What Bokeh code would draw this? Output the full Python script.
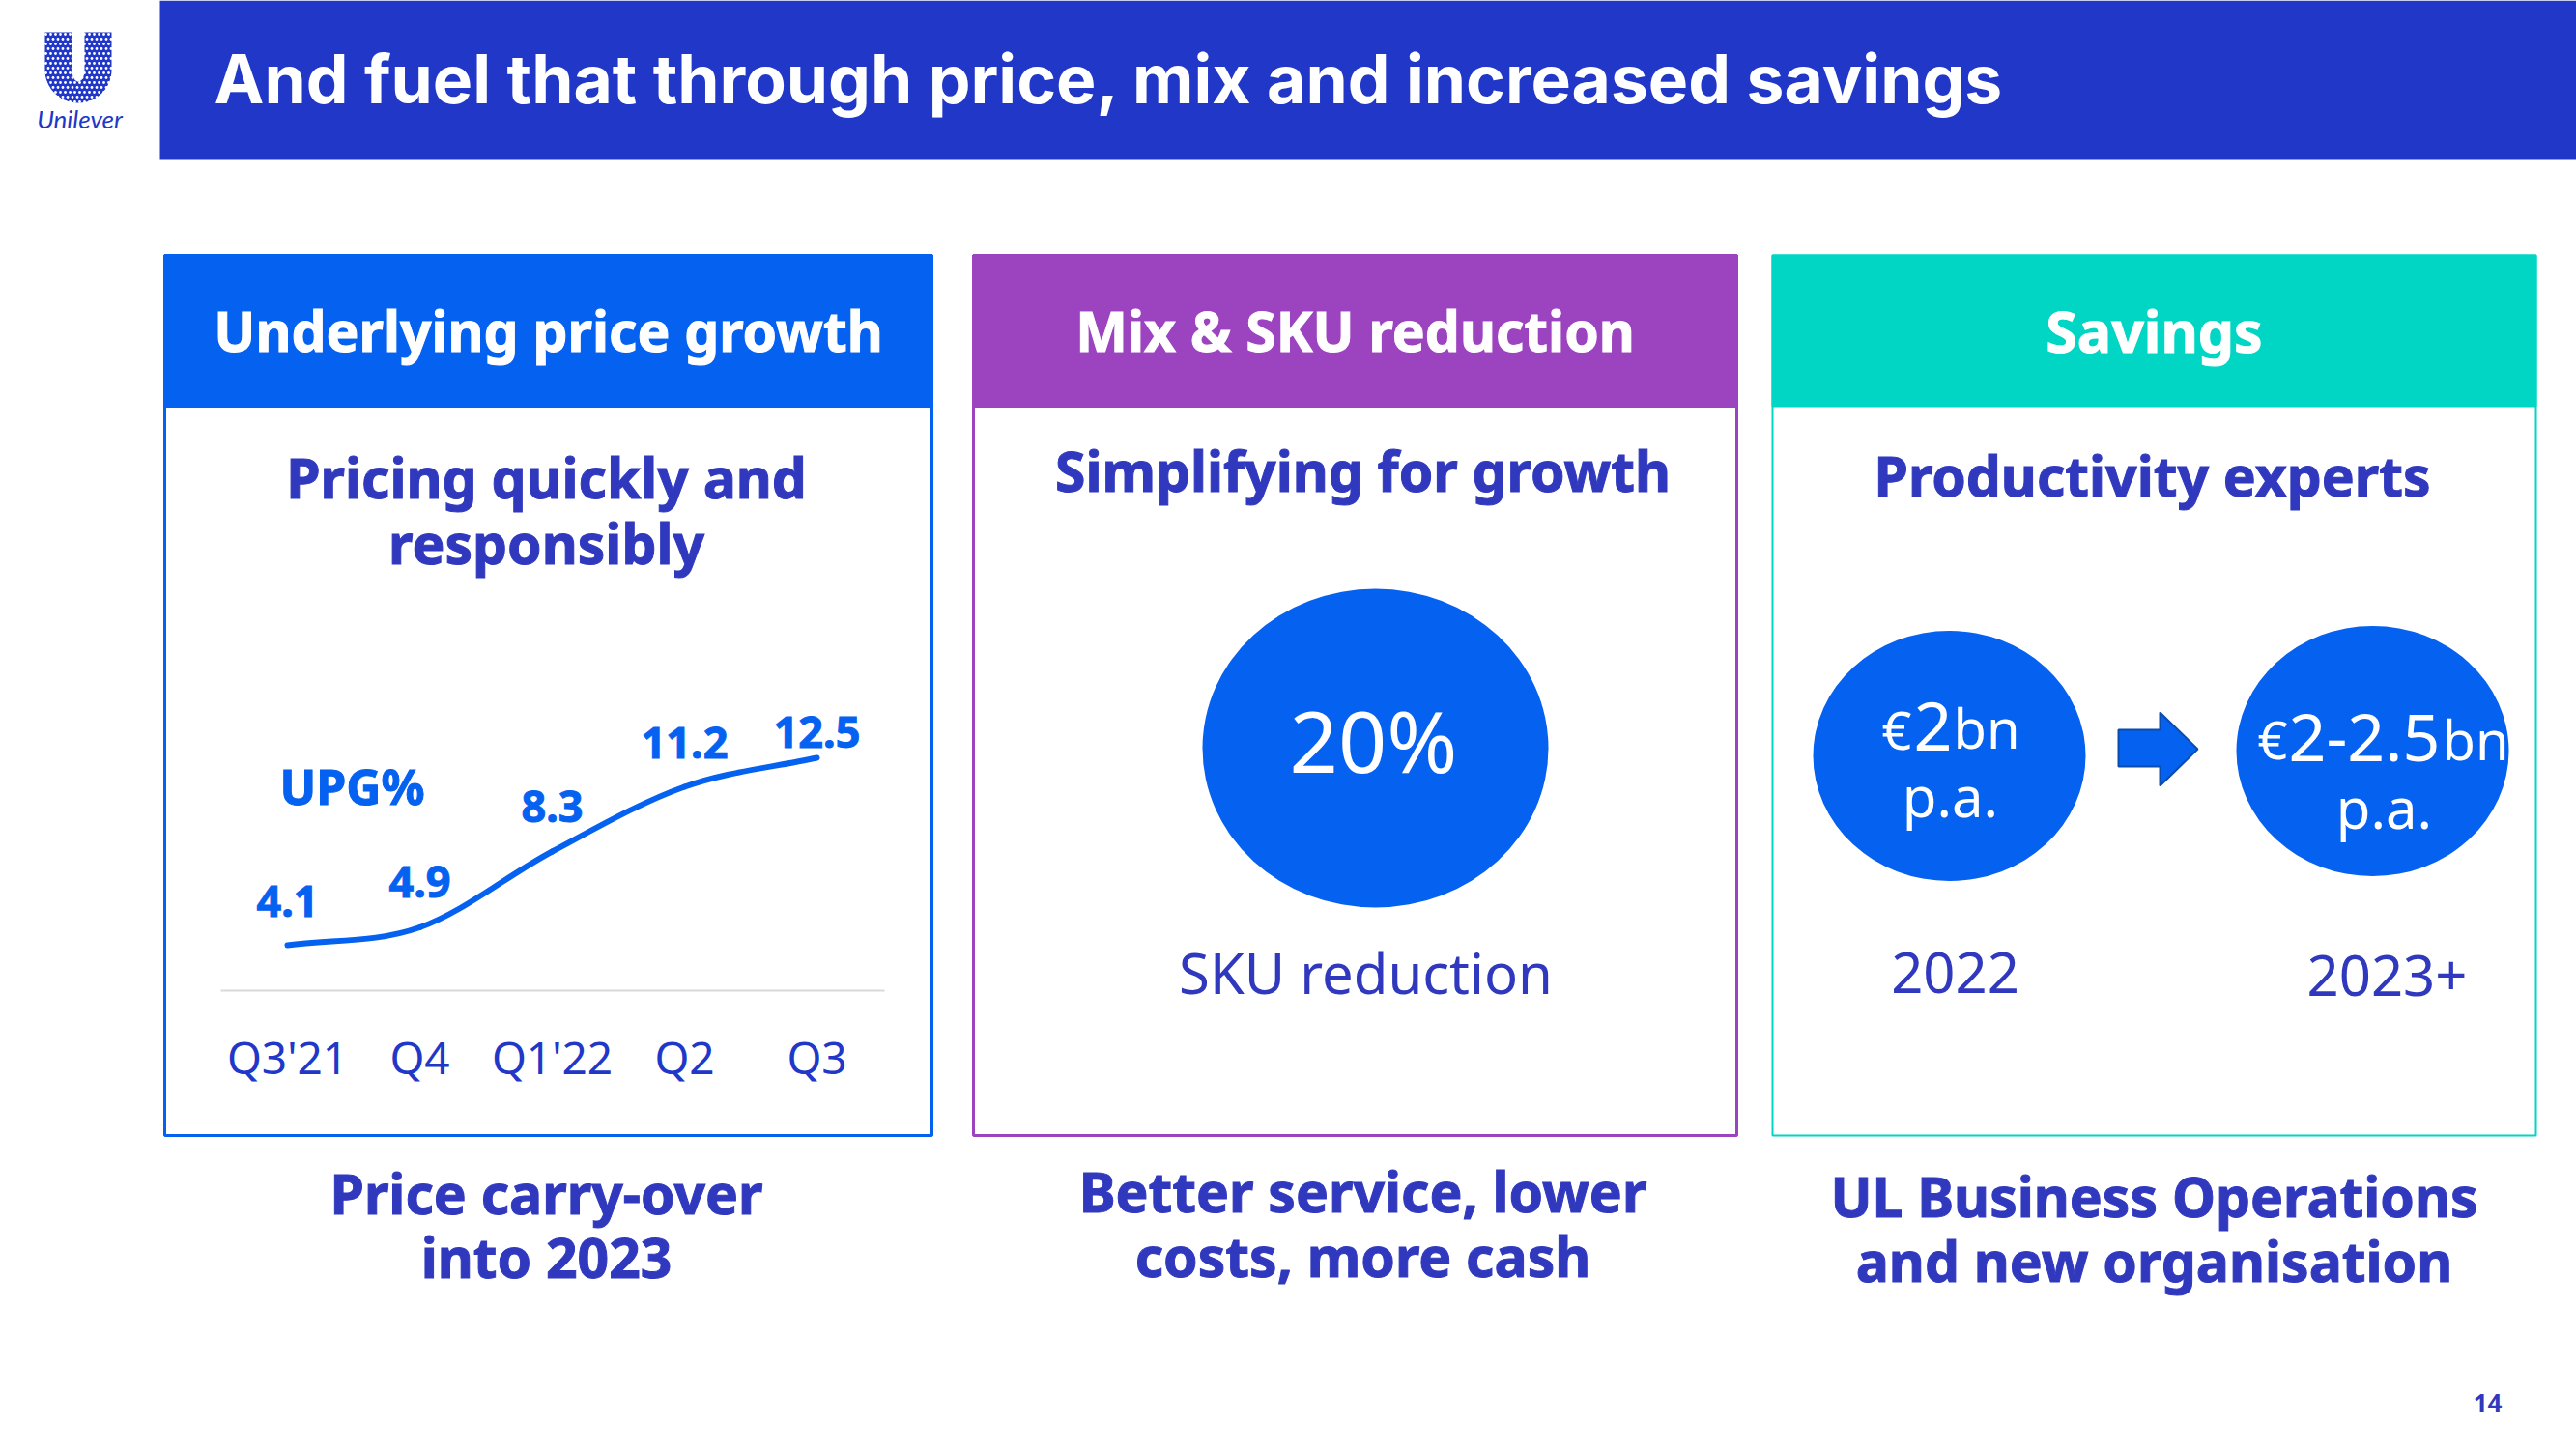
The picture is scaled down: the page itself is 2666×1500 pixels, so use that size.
import numpy as np
from bokeh.plotting import figure
from bokeh.models import Range1d, ColumnDataSource
from bokeh.core.properties import value
from bokeh.embed import file_html
from bokeh.resources import INLINE

# ---- chart data ----
quarters = ["Q3'21", "Q4", "Q1'22", "Q2", "Q3"]
upg = [4.1, 4.9, 8.3, 11.2, 12.5]
upg_labels = ["4.1", "4.9", "8.3", "11.2", "12.5"]

title = "And fuel that through price, mix and increased savings"
headers = ["Underlying price growth", "Mix & SKU reduction", "Savings"]
footers = [["Price carry-over", "into 2023"],
           ["Better service, lower", "costs, more cash"],
           ["UL Business Operations", "and new organisation"]]

NAVY = "#2137C8"
INK = "#3039BE"
BLUE = "#0561F0"
PURPLE = "#9C44BF"
TEAL = "#00D6C3"
HEAVY = "Noto Sans"
LIGHT = "Noto Sans"

W, H = 2666, 1500
p = figure(width=W, height=H, output_backend="svg", toolbar_location=None,
           x_range=Range1d(0, W), y_range=Range1d(H, 0),
           min_border=0, outline_line_color=None)
p.xaxis.visible = False
p.yaxis.visible = False
p.grid.visible = False
p.background_fill_color = "white"


def txt(x, y, s, size, color=INK, bold=True, font=HEAVY, align="center", baseline="middle", heavy=False):
    kw = dict(text_outline_color=color) if heavy else {}
    p.text([x], [y], text=[s], text_font=value(font), text_font_size=f"{size}px",
           text_font_style="bold" if bold else "normal", text_color=color,
           text_align=align, text_baseline=baseline, **kw)


# ---- title bar ----
p.quad(left=165, right=W, top=0, bottom=165, fill_color=NAVY, line_color=None)
txt(221, 81, title, 69.5, color="white", font="Inter", align="left")

# ---- logo ----
t = np.linspace(np.pi, 0, 40)
ox, oy = 80.5 + 34.5 * np.cos(t), 72 + 34 * np.sin(t)
ix, iy = 80.5 + 6.5 * np.cos(t[::-1]), 72 + 12 * np.sin(t[::-1])
ux = np.concatenate([[46], ox, [115, 87], ix, [74]])
uy = np.concatenate([[33], oy, [33, 33], iy, [33]])
p.patch(ux, uy, fill_color=NAVY, line_color=None)
gx, gy = np.meshgrid(np.arange(47, 116, 5.0), np.arange(35, 106, 5.0))
gx = gx + (np.arange(gx.shape[0])[:, None] % 2) * 2.5
p.scatter(gx.ravel(), gy.ravel(), size=2.8, marker="circle", fill_color="white", line_color=None)
p.text([82], [122], text=["Unilever"], text_font=value("Lato"), text_font_size="26px",
       text_font_style="italic", text_color=NAVY, text_align="center", text_baseline="middle")

# ---- panels ----
panels = [(170, 964, BLUE, 3), (1007, 1797, PURPLE, 3), (1834, 2624, TEAL, 2)]
header_sizes = [57, 57, 59]
for (l, r, c, w), h, hs in zip(panels, headers, header_sizes):
    p.quad(left=l, right=r, top=264, bottom=1175, fill_color="white", line_color=c, line_width=w)
    p.quad(left=l, right=r, top=264, bottom=420, fill_color=c, line_color=c, line_width=w)
    txt((l + r) / 2, 341, h, hs, color="white", heavy=True)

txt(565, 493, "Pricing quickly and", 57, heavy=True)
txt(565, 561, "responsibly", 57, heavy=True)
txt(1410, 486, "Simplifying for growth", 57, heavy=True)
txt(2227, 491, "Productivity experts", 57, heavy=True)

for x, ys, lines in zip((565, 1410, 2229), ((1234, 1300), (1232, 1299), (1237, 1304)), footers):
    for y, s in zip(ys, lines):
        txt(x, y, s, 57, heavy=True)

txt(2574, 1452, "14", 26)

# ---- line chart, through its own scales ----
# index -> px: 297 + 137 i ; value -> px: 978 - 23.1 (v - 4.1)
px_x0, px_dx, px_y0, px_dy = 297.0, 137.0, 978.0, 23.1
p.extra_x_ranges["chart_x"] = Range1d((0 - px_x0) / px_dx, (W - px_x0) / px_dx)
p.extra_y_ranges["chart_y"] = Range1d(4.1 - (H - px_y0) / px_dy, 4.1 + px_y0 / px_dy)

idx = np.arange(len(upg), dtype=float)
v = np.array(upg)
# smooth line: Bezier segments with Catmull-Rom handles
m = np.gradient(v)
p.bezier(x0=idx[:-1], y0=v[:-1], x1=idx[1:], y1=v[1:],
         cx0=idx[:-1] + 1 / 3, cy0=v[:-1] + m[:-1] / 3,
         cx1=idx[1:] - 1 / 3, cy1=v[1:] - m[1:] / 3,
         line_color=BLUE, line_width=6, line_cap="round",
         x_range_name="chart_x", y_range_name="chart_y")
lab = ColumnDataSource(dict(x=idx, y=v, t=upg_labels, yo=[-46, -47, -46, -45, -26]))
p.text("x", "y", text="t", source=lab, y_offset="yo", text_font=value(HEAVY), text_font_size="45px",
       text_font_style="bold", text_color=BLUE, text_outline_color=BLUE, text_align="center", text_baseline="middle",
       x_range_name="chart_x", y_range_name="chart_y")
txt(364, 813, "UPG%", 50, color=BLUE, heavy=True)

p.segment(x0=228, x1=915, y0=1025, y1=1025, line_color="#D9D9D9", line_width=2)
p.text(idx, [1093] * len(idx), text=quarters, text_font=value(LIGHT), text_font_size="46px",
       text_color=NAVY, text_align="center", text_baseline="middle", x_range_name="chart_x")

# ---- mix panel ----
p.ellipse(x=[1423], y=[774], width=[358], height=[330], fill_color=BLUE, line_color=None)
txt(1421, 765, "20%", 88, color="white", bold=False, font=LIGHT)
txt(1413, 1006, "SKU reduction", 58, bold=False, font=LIGHT)

# ---- savings panel ----
p.ellipse(x=[2017, 2455], y=[782, 777], width=[282, 282], height=[259, 259], fill_color=BLUE, line_color=None)
p.patch([2192, 2235, 2235, 2274, 2235, 2235, 2192], [755, 755, 737, 775, 813, 793, 793],
        fill_color=BLUE, line_color="#0B4CB0", line_width=2)
base = dict(color="white", bold=False, font=LIGHT, align="left")
txt(1947, 754, "€", 54, **base)
txt(1980, 751, "2", 70, **base)
txt(2021, 752, "bn", 56, **base)
txt(2018, 823, "p.a.", 58, color="white", bold=False, font=LIGHT)
txt(2336, 764, "€", 54, **base)
txt(2368, 763, "2-2.5", 68, **base)
txt(2527, 764, "bn", 56, **base)
txt(2467, 835, "p.a.", 58, color="white", bold=False, font=LIGHT)
txt(2023, 1006, "2022", 58, bold=False, font=LIGHT)
txt(2470, 1009, "2023+", 58, bold=False, font=LIGHT)

open("out.html", "w").write(file_html(p, INLINE))
